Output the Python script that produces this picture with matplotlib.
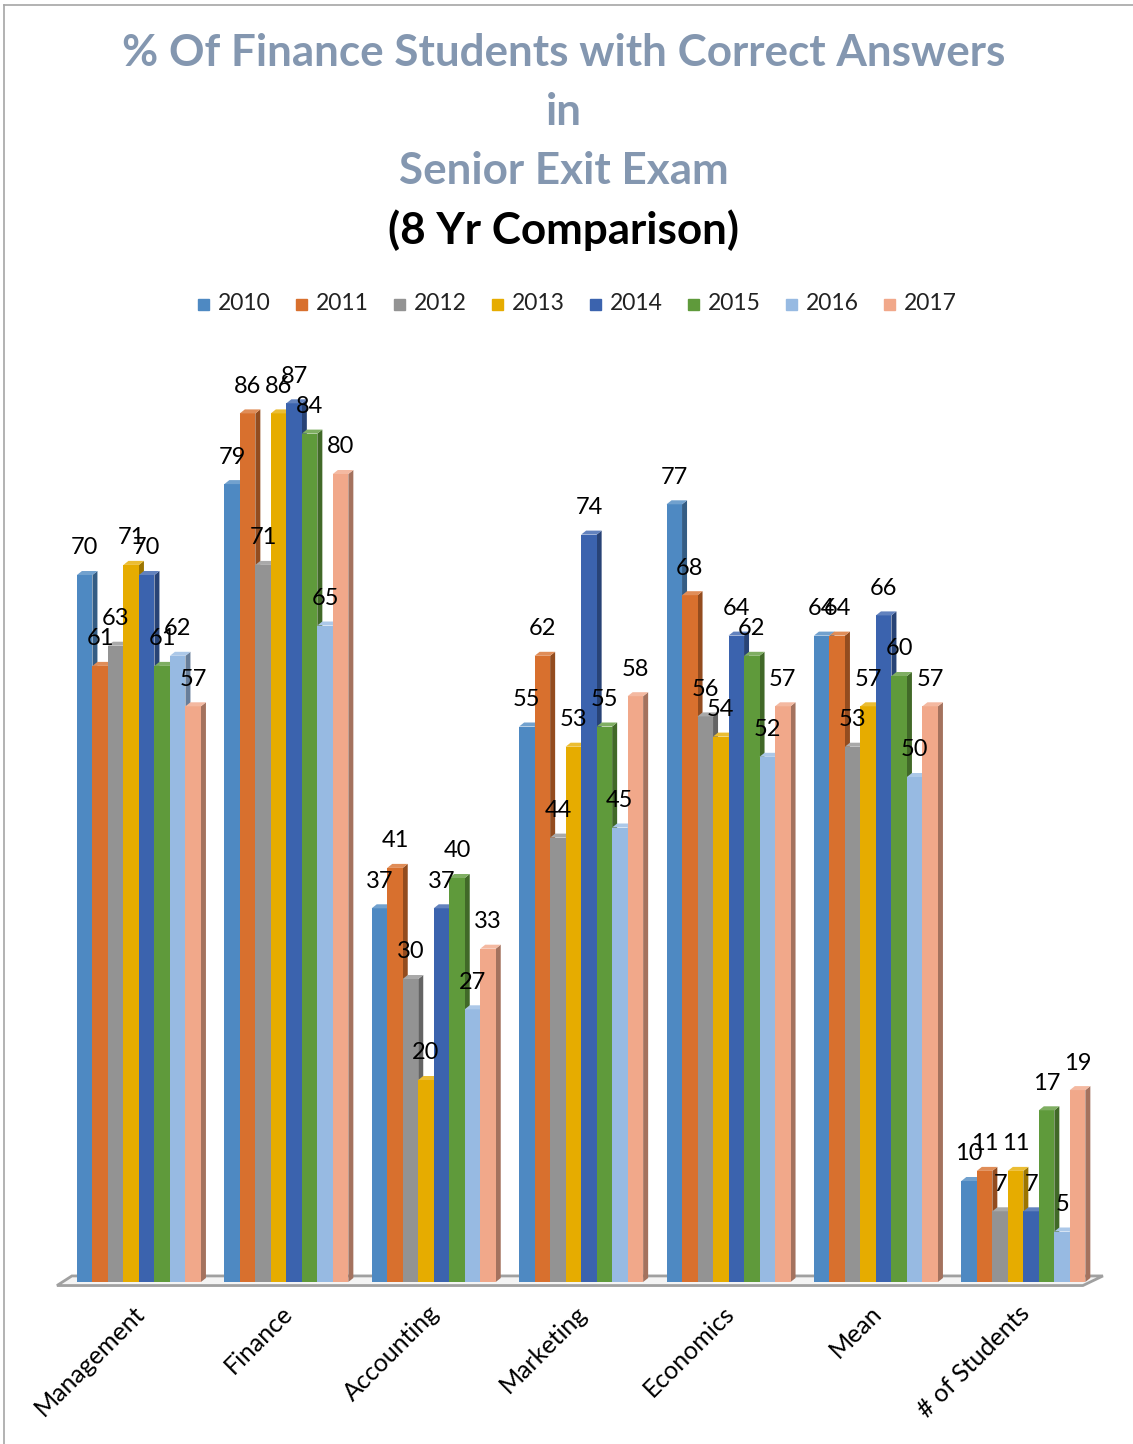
import numpy as np
import matplotlib.pyplot as plt
from matplotlib.patches import Polygon, Rectangle
from matplotlib.lines import Line2D
from matplotlib import colors as mcolors

plt.rcParams['font.family'] = ['Lato', 'DejaVu Sans']

# Данные
categories = ['Management', 'Finance', 'Accounting', 'Marketing',
              'Economics', 'Mean', '# of Students']
years = ['2010', '2011', '2012', '2013', '2014', '2015', '2016', '2017']
vals_2010 = [70, 79, 37, 55, 77, 64, 10]
vals_2011 = [61, 86, 41, 62, 68, 64, 11]
vals_2012 = [63, 71, 30, 44, 56, 53, 7]
vals_2013 = [71, 86, 20, 53, 54, 57, 11]
vals_2014 = [70, 87, 37, 74, 64, 66, 7]
vals_2015 = [61, 84, 40, 55, 62, 60, 17]
vals_2016 = [62, 65, 27, 45, 52, 50, 5]
vals_2017 = [57, 80, 33, 58, 57, 57, 19]
series = [vals_2010, vals_2011, vals_2012, vals_2013,
          vals_2014, vals_2015, vals_2016, vals_2017]
bar_colors = ['#4e89c2', '#d8702e', '#939393', '#e6ac00',
              '#3b63ae', '#5f9a3b', '#97bae2', '#f1a88a']

W, H = 1133, 1444
fig = plt.figure(figsize=(W / 100, H / 100), dpi=100)

# Рамка слева и сверху
fig.add_artist(Line2D([4 / W, 4 / W], [0, 1 - 5 / H], color='#a6a6a6', lw=1.2))
fig.add_artist(Line2D([4 / W, 1], [1 - 5 / H, 1 - 5 / H], color='#a6a6a6', lw=1.2))

# Заголовок
title_col = '#8497b0'
tsize = 31.7
fig.text(564 / W, 1 - 53 / H, '% Of Finance Students with Correct Answers',
         ha='center', va='center', fontsize=tsize, fontweight='bold', color=title_col)
fig.text(564 / W, 1 - 112 / H, 'in', ha='center', va='center',
         fontsize=tsize, fontweight='bold', color=title_col)
fig.text(564 / W, 1 - 171 / H, 'Senior Exit Exam', ha='center', va='center',
         fontsize=tsize, fontweight='bold', color=title_col)
fig.text(564 / W, 1 - 230 / H, '(8 Yr Comparison)', ha='center', va='center',
         fontsize=tsize, fontweight='bold', color='black')

# Легенда
for j, (yr, c) in enumerate(zip(years, bar_colors)):
    x0 = 198 + j * 98
    fig.add_artist(Rectangle((x0 / W, 1 - 310 / H), 11 / W, 11 / H,
                             color=c, transform=fig.transFigure))
    fig.text((x0 + 20) / W, 1 - 304 / H, yr, ha='left', va='center',
             fontsize=16.5, color='#222222')

# Оси: 10.1 px на единицу
unit = 10.1
ymin, ymax = -0.5, 90
base_px = 1282 - ymin * unit
ax = fig.add_axes([62 / W, (H - base_px) / H, (1105 - 62) / W,
                   (ymax - ymin) * unit / H])
ax.set_xlim(-0.522, 6.554)
ax.set_ylim(ymin, ymax)
ax.axis('off')

w = 15.5 / 147.4
dx = 5 / 147.4
dy = 4 / unit

# Пол
floor = Polygon([(-0.556, -0.35), (6.404, -0.35), (6.54, 0.6), (-0.455, 0.6)],
                closed=True, facecolor='#f4f4f4', edgecolor='#a0a0a0',
                lw=2, zorder=1, clip_on=False)
ax.add_patch(floor)

x_idx = np.arange(len(categories))
for j, (vals, c) in enumerate(zip(series, bar_colors)):
    rgb = np.array(mcolors.to_rgb(c))
    dark = rgb * 0.68
    light = rgb + (1 - rgb) * 0.2
    left = x_idx + (j - 4) * w
    z = 2 + j
    ax.bar(left, vals, width=w, align='edge', color=c, zorder=z + 0.5)
    for xl, v in zip(left, vals):
        side = [(xl + w, 0), (xl + w + dx, dy), (xl + w + dx, v + dy), (xl + w, v)]
        top = [(xl, v), (xl + dx, v + dy), (xl + w + dx, v + dy), (xl + w, v)]
        ax.add_patch(Polygon(side, closed=True, facecolor=dark, lw=0, zorder=z))
        ax.add_patch(Polygon(top, closed=True, facecolor=light, lw=0, zorder=z + 0.6))
        ax.annotate(str(v), (xl + w / 2, v), xytext=(0, 19.5),
                    textcoords='offset points', ha='center', va='center',
                    fontsize=17, color='black', zorder=20)

# Подписи категорий
for i, name in enumerate(categories):
    ax.text(i - 0.04, -1.9, name, rotation=45, rotation_mode='anchor',
            ha='right', va='top', fontsize=18, color='black', clip_on=False)

fig.savefig('out.png', dpi=100)
